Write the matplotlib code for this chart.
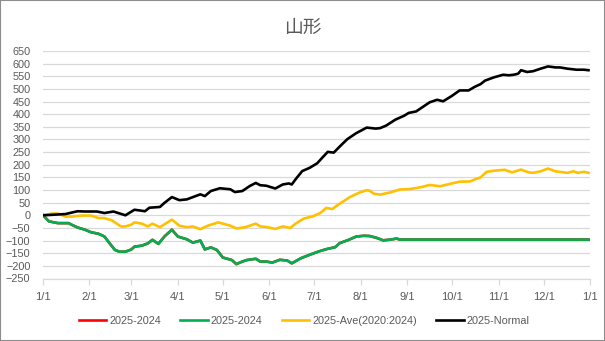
import matplotlib
matplotlib.use("Agg")
import matplotlib.pyplot as plt
import matplotlib.dates as mdates
from matplotlib.patches import Rectangle
import pandas as pd

title = "山形"
legend_labels = ["2025-2024", "2025-2024", "2025-Ave(2020:2024)", "2025-Normal"]
month_labels = ["1/1", "2/1", "3/1", "4/1", "5/1", "6/1", "7/1", "8/1", "9/1", "10/1", "11/1", "12/1", "1/1"]

# day offsets from 2025-01-01 and values
green_days = [0, 4, 10, 17, 19, 23, 28, 32, 37, 41, 45, 48, 51, 55, 59, 61, 66, 70, 73,
              77, 81, 86, 90, 96, 100, 105, 108, 112, 116, 120, 126, 129, 133, 136, 142, 145,
              149, 153, 158, 163, 166, 172, 178, 184, 189, 195, 198, 204, 209, 214, 218, 223,
              227, 232, 236, 238, 240, 364]
green_vals = [0, -24, -31, -31, -37, -48, -57, -67, -73, -84, -115, -137, -144, -144, -135,
              -124, -120, -111, -97, -113, -84, -57, -84, -95, -108, -100, -135, -127, -137,
              -167, -177, -193, -183, -177, -172, -183, -183, -187, -176, -179, -190, -170,
              -156, -143, -134, -126, -110, -97, -84, -81, -82, -90, -99, -96, -92, -96, -96, -96]

yellow_days = [0, 6, 10, 15, 19, 26, 32, 37, 41, 46, 52, 55, 59, 61, 66, 70, 73, 78, 86, 91,
               96, 100, 105, 110, 117, 125, 129, 135, 142, 145, 149, 155, 160, 165, 169, 174,
               180, 185, 189, 193, 198, 205, 212, 216, 218, 221, 225, 232, 238, 245, 252, 258,
               265, 272, 278, 285, 289, 292, 296, 302, 308, 313, 319, 324, 327, 332, 337, 342,
               350, 354, 357, 361, 364]
yellow_vals = [0, 7, 7, -5, -5, -1, -1, -11, -11, -20, -44, -44, -37, -28, -33, -44, -33,
               -47, -17, -41, -47, -44, -55, -41, -28, -41, -52, -47, -33, -44, -46, -54, -44,
               -50, -31, -13, -4, 9, 29, 25, 46, 73, 92, 99, 97, 85, 82, 91, 102, 104, 111,
               120, 115, 125, 133, 134, 144, 150, 172, 177, 180, 170, 181, 170, 168, 174, 185,
               174, 168, 174, 168, 172, 168]

black_days = [0, 6, 15, 23, 28, 36, 41, 47, 55, 61, 66, 68, 71, 78, 81, 86, 91, 96, 100, 105,
              108, 112, 118, 125, 128, 133, 138, 142, 145, 149, 155, 160, 164, 166, 169, 173,
              178, 183, 187, 190, 194, 198, 203, 209, 216, 222, 225, 229, 235, 241, 244, 249,
              254, 258, 263, 267, 273, 278, 284, 288, 292, 295, 301, 307, 311, 314, 317, 319,
              323, 327, 332, 337, 342, 345, 350, 356, 361, 364]
black_vals = [0, 2, 5, 16, 15, 15, 9, 15, 0, 22, 18, 16, 30, 33, 49, 72, 60, 63, 72, 83, 76,
              96, 107, 103, 92, 96, 116, 128, 119, 117, 106, 122, 126, 122, 146, 175, 188, 206,
              232, 251, 248, 272, 301, 325, 347, 343, 345, 355, 378, 394, 405, 411, 431, 447,
              457, 451, 473, 494, 494, 508, 519, 533, 546, 556, 554, 556, 560, 574, 567, 570,
              580, 589, 585, 585, 580, 576, 576, 574]

start = pd.Timestamp("2025-01-01")
def to_dates(days):
    return start + pd.to_timedelta(days, unit="D")

plt.rcParams['font.family'] = ['Liberation Sans', 'Noto Sans CJK JP', 'DejaVu Sans']

fig = plt.figure(figsize=(6.05, 3.41), dpi=100)
ax = fig.add_axes([43/605, 1 - 278.5/341, (590 - 43)/605, (278.5 - 51)/341])

text_col = "#595959"
grid_col = "#D9D9D9"

ax.plot(to_dates(green_days), green_vals, color="#FF0000", lw=1.9, label=legend_labels[0])
ax.plot(to_dates(green_days), green_vals, color="#00B050", lw=1.9, label=legend_labels[1])
ax.plot(to_dates(yellow_days), yellow_vals, color="#FFC000", lw=1.9, label=legend_labels[2])
ax.plot(to_dates(black_days), black_vals, color="#000000", lw=1.9, label=legend_labels[3])

ax.set_ylim(-250, 650)
ax.set_yticks(range(-250, 651, 50))
ax.set_xlim(pd.Timestamp("2025-01-01"), pd.Timestamp("2026-01-01"))
ticks = pd.date_range("2025-01-01", "2026-01-01", freq="MS")
ax.set_xticks(ticks)
ax.set_xticklabels(month_labels)

ax.grid(axis="y", color=grid_col, lw=0.9)
ax.set_axisbelow(True)
for s in ["top", "right", "left"]:
    ax.spines[s].set_visible(False)
ax.spines["bottom"].set_color(grid_col)
ax.spines["bottom"].set_linewidth(0.9)
ax.tick_params(axis="y", length=0, pad=9, labelsize=7.8, labelcolor=text_col)
ax.tick_params(axis="x", length=4, width=0.9, color=grid_col, pad=6, labelsize=8,
               labelcolor=text_col)

fig.text(0.5, 1 - 27/341, title, ha="center", va="center", fontsize=13.5,
         color=text_col, family=['Noto Sans CJK JP'])

leg = fig.legend(loc="center", bbox_to_anchor=(0.503, 1 - 321/341), ncol=4, frameon=False,
                 fontsize=7.8, handlelength=2.5, handletextpad=0.3, columnspacing=1.8)
for t in leg.get_texts():
    t.set_color(text_col)

fig.patches.append(Rectangle((0, 0), 1, 1, transform=fig.transFigure, fill=False,
                             edgecolor="#8C8C8C", lw=1.5))

fig.savefig("out.png", dpi=100)
